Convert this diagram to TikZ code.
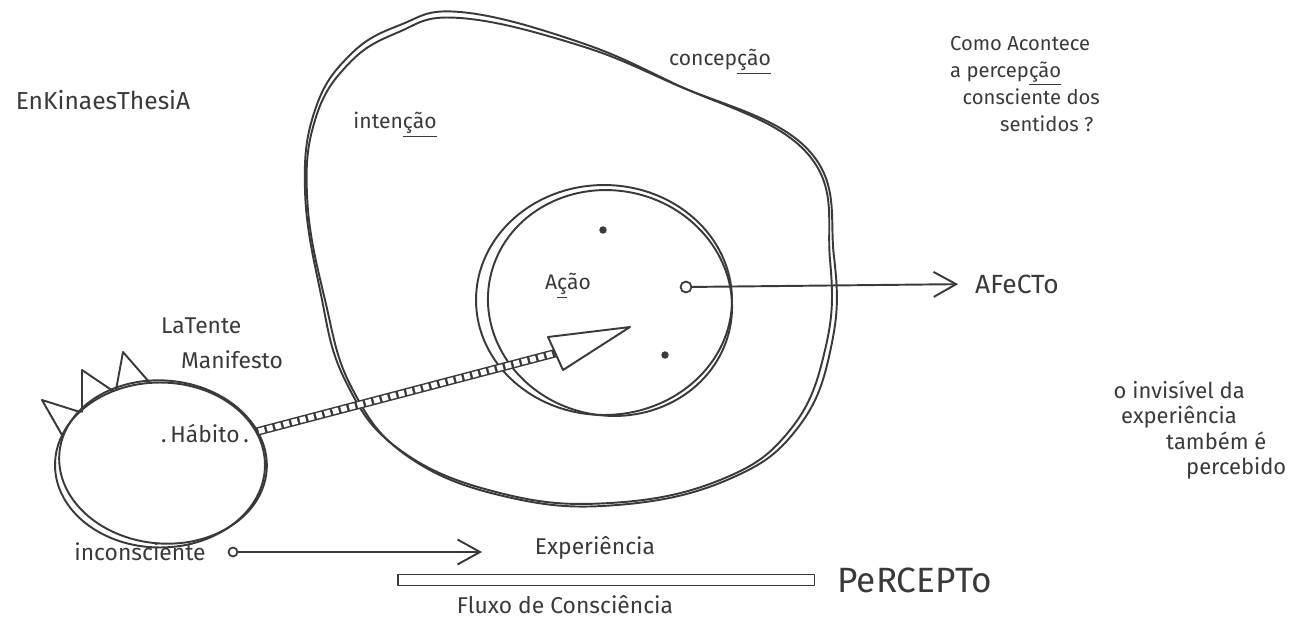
\documentclass[tikz,border=0pt]{standalone}
\usepackage{fontspec}
\setmainfont{Fira Sans}
\usetikzlibrary{arrows.meta,shapes.geometric,positioning}
\definecolor{tinta}{HTML}{3A3A3A}

\tikzset{
    traco/.style={draw=tinta, line width=1.1pt, line join=round, line cap=round},
    escrita/.style={text=tinta, inner sep=1pt, align=left, font=\fontsize{12}{15}\selectfont},
    ponto/.style={circle, fill=tinta, inner sep=1.5pt},
    bolinha/.style={circle, draw=tinta, line width=1pt, inner sep=2.2pt},
    farpa/.style={-{Straight Barb[length=4.5mm, width=5mm, line width=1.1pt]}}
}

\begin{document}
\begin{tikzpicture}[x=0.02cm, y=-0.02cm]
    \useasboundingbox (0,0) rectangle (1297,622);
    % concepcao, contorno duplo
    \foreach \dx/\dy/\r in {0/0/0, 4/3/1.5}
        \draw[traco, shift={(\dx,\dy)}, rotate around={\r:(565,260)}]
            plot[smooth cycle, tension=0.7] coordinates {(460,12) (573,40) (673,83) (807,153)
            (830,260) (825,350) (790,430) (720,480) (610,503) (500,493) (400,450)
            (345,380) (320,290) (305,190) (315,110) (350,55) (400,25)};
    % acao
    \draw[traco] (604,300) ellipse [x radius=2.56cm, y radius=2.3cm];
    \draw[traco, rotate around={-12:(610,303)}] (610,303) ellipse [x radius=2.45cm, y radius=2.25cm];
    % habito
    \node[traco, ellipse, minimum width=4.2cm, minimum height=3.3cm] (habito) at (160,465) {};
    \draw[traco, rotate around={-5:(163,462)}] (163,462) ellipse [x radius=2.08cm, y radius=1.63cm];
    \foreach \a/\b/\c in {{(62,435)}/{(42,400)}/{(80,412)}, {(82,412)}/{(82,370)}/{(113,391)},
        {(116,390)}/{(123,352)}/{(150,383)}}
        \draw[traco] \a -- \b -- \c;

    \path node[escrita, font=\fontsize{14}{16}\selectfont] (enkin) at (103,100) {EnKinaesThesiA}
        node[escrita] (intencao) at (395,125) {inten\underline{ção}}
        node[escrita] (concepcao) at (720,62) {concep\underline{ção}}
        node[escrita, font=\fontsize{11.5}{15.5}\selectfont] (pergunta) at (1025,84)
            {Como Acontece\\a percep\underline{ção}\\\hspace*{0.25cm}consciente dos\\\hspace*{1cm}sentidos ?}
        node[escrita] (acao) at (568,286) {A\underline{ç}ão}
        node[ponto] (p1) at (603,230) {}
        node[ponto] (p2) at (665,355) {}
        node[bolinha] (origem) at (686,287) {}
        node[escrita, font=\fontsize{15}{17}\selectfont] (afecto) at (1017,284) {AFeCTo}
        node[escrita, font=\fontsize{13}{20}\selectfont] (latente) at (222,343) {LaTente\\\hspace*{0.4cm}Manifesto}
        node[escrita, font=\fontsize{13}{15}\selectfont] (habitotxt) at (205,433) {.\,Hábito\,.}
        node[escrita, font=\fontsize{12.5}{14.5}\selectfont] (invisivel) at (1200,430)
            {o invisível da\\\hspace*{0.15cm}experiência\\\hspace*{1.05cm}também é\\\hspace*{1.45cm}percebido}
        node[escrita, font=\fontsize{13}{15}\selectfont] (inconsciente) at (140,552) {inconsciente}
        node[bolinha, inner sep=1.8pt] (incdot) at (233,552) {}
        node[escrita, font=\fontsize{13}{15}\selectfont] (experiencia) at (595,548) {Experiência}
        node[traco, rectangle, minimum width=8.34cm, minimum height=0.22cm, inner sep=0pt] (fluxo) at (606,580) {}
        node[escrita, font=\fontsize{20}{22}\selectfont, right=0.4cm of fluxo] (percepto) {PeRCEPTo}
        node[escrita, font=\fontsize{13}{15}\selectfont] (fluxotxt) at (565,605) {Fluxo de Consciência};

    % escada ate a acao
    \coordinate (base) at (556,353);
    \draw[line width=0.17cm, tinta] (habito.19) -- (base);
    \draw[line width=0.11cm, white, dash pattern=on 0.12cm off 0.05cm, shorten <=1pt] (habito.19) -- (base);
    \draw[traco, fill=white] (548,337) -- (630,327) -- (563,370) -- cycle;

    \coordinate (fim) at (482,552);
    \draw[traco, farpa, shorten >=0.3cm] (origem) -- (afecto.west);
    \draw[traco, farpa] (incdot) -- (fim);
\end{tikzpicture}
\end{document}
